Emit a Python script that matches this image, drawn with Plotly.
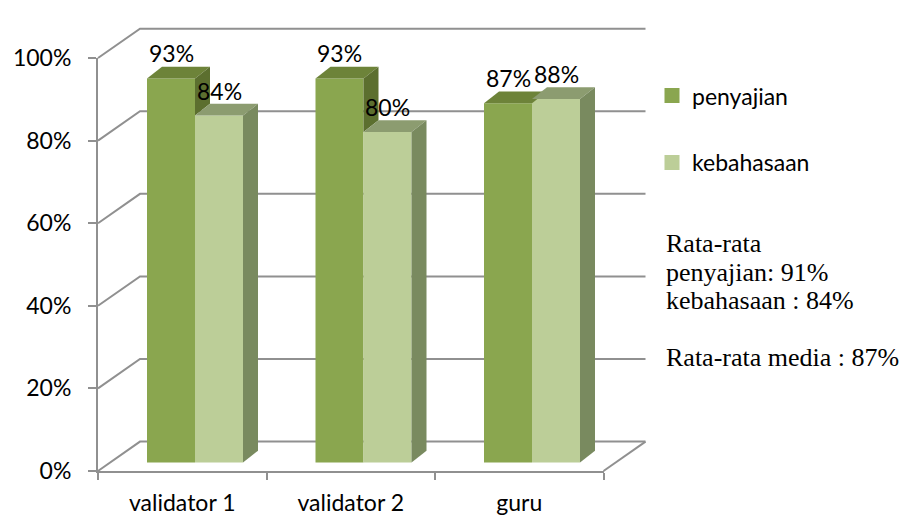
import plotly.graph_objects as go

# ---------------- data ----------------
categories = ["validator 1", "validator 2", "guru"]
series_names = ["penyajian", "kebahasaan"]
penyajian = [93, 93, 87]
kebahasaan = [84, 80, 88]
y_ticks = [0, 20, 40, 60, 80, 100]
y_tick_labels = ["0%", "20%", "40%", "60%", "80%", "100%"]
summary_lines = ["Rata-rata", "penyajian: 91%", "kebahasaan : 84%", "", "Rata-rata media : 87%"]

# ---------------- styling / geometry (screen pixels) ----------------
W, H = 910, 529
M = 8                   # page (body) margin the figure is offset by
PX_PER_CAT = 168.5
PX_PER_PCT = 4.36
BAR_X0 = 195 - M
BAR_Y0 = 472 - M
FRONT_LEFT = 98 - M
FRONT_BOTTOM = 481 - M
BACK_DX, BACK_DY = 42, 31
BAR_DX, BAR_DY = 15, 12.4
BAR_W = 48

pen_cols = dict(front="#8AA64F", top="#6D8339", side="#5C6F2F")
keb_cols = dict(front="#BCCE98", top="#8C9C70", side="#798A5F")
grid_col = "#909090"
FONT = "Lato"
SERIF = "Liberation Serif"

x_lo = -BAR_X0 / PX_PER_CAT
x_hi = x_lo + W / PX_PER_CAT
y_lo = -(H - BAR_Y0) / PX_PER_PCT
y_hi = BAR_Y0 / PX_PER_PCT

bw = BAR_W / PX_PER_CAT
bdx = BAR_DX / PX_PER_CAT
bdy = BAR_DY / PX_PER_PCT
wdx = BACK_DX / PX_PER_CAT
wdy = BACK_DY / PX_PER_PCT
n = len(categories)
xs = list(range(n))


def fx(f):
    """front-plane category coordinate -> bar-plane coordinate"""
    return f + 0.5 + (FRONT_LEFT - BAR_X0) / PX_PER_CAT


def fv(v):
    return v + (BAR_Y0 - FRONT_BOTTOM) / PX_PER_PCT


fig = go.Figure()

# front faces of the bars
offsets = [-bw, 0.0]
all_vals = [penyajian, kebahasaan]
cols = [pen_cols, keb_cols]
for name, vals, off, c in zip(series_names, all_vals, offsets, cols):
    fig.add_trace(go.Bar(x=xs, y=vals, width=bw, offset=off, name=name,
                         marker=dict(color=c["front"], line=dict(width=0)),
                         showlegend=False, hoverinfo="skip"))


def poly(px, py, color):
    fig.add_trace(go.Scatter(x=px + [px[0]], y=py + [py[0]], mode="lines", fill="toself",
                             fillcolor=color, line=dict(width=0, color=color),
                             showlegend=False, hoverinfo="skip"))


# top and (visible part of) side faces
for s, (vals, off, c) in enumerate(zip(all_vals, offsets, cols)):
    for i in xs:
        v = vals[i]
        x0 = i + off
        x1 = x0 + bw
        poly([x0, x1, x1 + bdx, x0 + bdx], [v, v, v + bdy, v + bdy], c["top"])
        if s < len(all_vals) - 1:
            base = min(v, all_vals[s + 1][i])
        else:
            base = 0
        if v > base:
            poly([x1, x1, x1 + bdx, x1 + bdx], [base, v, v + bdy, base + bdy], c["side"])

# legend entries
for name, c in zip(series_names, cols):
    fig.add_trace(go.Scatter(x=[None], y=[None], mode="markers", name=name, legendgroup=name,
                             marker=dict(symbol="square", size=15, color=c["front"])))

# invisible trace so the front-plane axes (x2/y2) are drawn
fig.add_trace(go.Scatter(x=xs, y=[None] * n, xaxis="x2", yaxis="y2", mode="markers",
                         showlegend=False, hoverinfo="skip"))

# walls / floor
shapes = []
left, right = -0.5, n - 0.5
for v in y_ticks:
    pts = [(fx(left), fv(v)), (fx(left) + wdx, fv(v) + wdy), (fx(right) + wdx, fv(v) + wdy)]
    path = "M " + " L ".join(f"{a},{b}" for a, b in pts)
    shapes.append(dict(type="path", path=path, xref="x", yref="y", layer="below",
                       line=dict(color=grid_col, width=2)))
pts = [(fx(right), fv(0)), (fx(right) + wdx, fv(0) + wdy)]
shapes.append(dict(type="path", path="M " + " L ".join(f"{a},{b}" for a, b in pts),
                   xref="x", yref="y", layer="below", line=dict(color=grid_col, width=2)))

# labels
annotations = []
for vals, off in zip(all_vals, offsets):
    for i in xs:
        annotations.append(dict(x=i + off + bw / 2, y=vals[i], xref="x", yref="y",
                                text=f"{vals[i]}%", showarrow=False, yshift=25,
                                xanchor="center", yanchor="middle",
                                font=dict(family=FONT, size=23, color="#000")))
for k, line in enumerate(summary_lines):
    if line:
        base_px = 250 + 30 * k - M
        annotations.append(dict(x=(664 - M) / W, y=1 - (base_px - 9) / H, xref="paper", yref="paper",
                                text=line, showarrow=False, xanchor="left", yanchor="middle",
                                font=dict(family=SERIF, size=26, color="#000")))

fig.update_layout(
    width=W, height=H, autosize=False,
    margin=dict(l=0, r=0, t=0, b=0, pad=0),
    paper_bgcolor="white", plot_bgcolor="rgba(0,0,0,0)",
    barmode="overlay",
    shapes=shapes, annotations=annotations,
    xaxis=dict(range=[x_lo, x_hi], domain=[0, 1], visible=False, fixedrange=True),
    yaxis=dict(range=[y_lo, y_hi], domain=[0, 1], visible=False, fixedrange=True),
    xaxis2=dict(domain=[FRONT_LEFT / W, (FRONT_LEFT + n * PX_PER_CAT) / W], anchor="y2",
                range=[left, right], tickvals=xs, ticktext=categories, ticks="",
                showline=True, linecolor=grid_col, linewidth=2, showgrid=False, zeroline=False,
                minor=dict(tickvals=[left + k for k in range(n + 1)], ticks="outside",
                           ticklen=7, tickwidth=2, tickcolor=grid_col, showgrid=False),
                tickfont=dict(family=FONT, size=23, color="#000"), ticklabelstandoff=10,
                fixedrange=True),
    yaxis2=dict(domain=[1 - FRONT_BOTTOM / H, 1 - (FRONT_BOTTOM - 100 * PX_PER_PCT) / H],
                anchor="x2", range=[0, 100], tickvals=y_ticks, ticktext=y_tick_labels,
                ticks="outside", ticklen=8, tickwidth=2, tickcolor=grid_col,
                showline=True, linecolor=grid_col, linewidth=2, showgrid=False, zeroline=False,
                tickfont=dict(family=FONT, size=23, color="#000"), ticklabelstandoff=12,
                fixedrange=True),
    legend=dict(x=(652 - M) / W, y=1 - (62 - M) / H, xanchor="left", yanchor="top",
                font=dict(family=FONT, size=23, color="#000"), tracegroupgap=34,
                bgcolor="rgba(0,0,0,0)", borderwidth=0),
    showlegend=True,
)

fig.write_html("out.html")
